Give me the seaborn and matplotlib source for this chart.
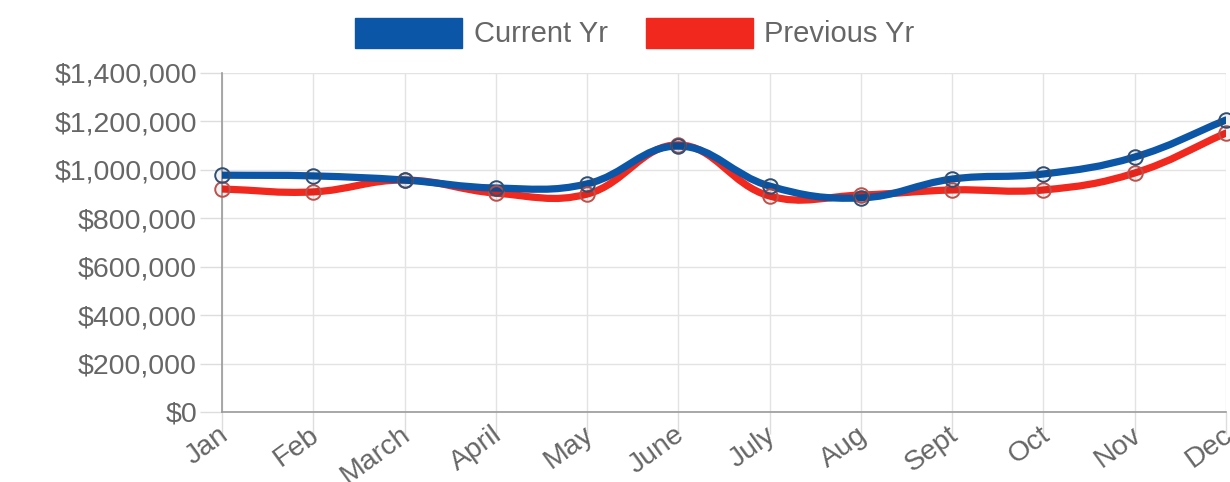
import matplotlib.pyplot as plt
import numpy as np
import pandas as pd
import seaborn as sns
from matplotlib.patches import Patch, PathPatch
from matplotlib.path import Path
from matplotlib.ticker import FuncFormatter, MultipleLocator

months = ["Jan", "Feb", "March", "April", "May", "June",
          "July", "Aug", "Sept", "Oct", "Nov", "Dec"]
current_yr = [978000, 975000, 958000, 925000, 942000, 1098000,
              933000, 884000, 962000, 983000, 1053000, 1206000]
previous_yr = [921000, 909000, 958000, 904000, 900000, 1103000,
               892000, 896000, 917000, 917000, 987000, 1152000]

BLUE = "#0b56a6"
RED = "#f0281e"
GRAY = "#666666"

sns.set_theme(style="white")
plt.rcParams["font.family"] = ["Liberation Sans", "DejaVu Sans"]

df = pd.DataFrame({"month": months, "Current Yr": current_yr, "Previous Yr": previous_yr})
df["pos"] = range(len(months))


def smooth_path(ax, xs, ys, tension=0.4):
    # chart.js-style cubic bezier through the data points (computed in pixel space)
    pts = ax.transData.transform(np.column_stack([xs, ys]))
    n = len(pts)
    verts = [pts[0]]
    codes = [Path.MOVETO]
    cps = []
    for i in range(n):
        prev = pts[max(i - 1, 0)]
        cur = pts[i]
        nxt = pts[min(i + 1, n - 1)]
        d01 = np.hypot(*(cur - prev))
        d12 = np.hypot(*(nxt - cur))
        tot = d01 + d12 if d01 + d12 > 0 else 1
        fa = tension * d01 / tot
        fb = tension * d12 / tot
        cps.append((cur - fa * (nxt - prev), cur + fb * (nxt - prev)))
    for i in range(1, n):
        verts += [cps[i - 1][1], cps[i][0], pts[i]]
        codes += [Path.CURVE4] * 3
    inv = ax.transData.inverted()
    return Path(inv.transform(np.array(verts)), codes)


fig = plt.figure(figsize=(12.3, 4.82), dpi=100)
ax = fig.add_axes([222 / 1230, 1 - 412 / 482, 1004 / 1230, 339 / 482])
ax.set_xlim(0, 11)
ax.set_ylim(0, 1400000)

ax.yaxis.set_major_locator(MultipleLocator(200000))
ax.yaxis.set_major_formatter(FuncFormatter(lambda v, p: f"${v:,.0f}"))
ax.set_xticks(df["pos"])
ax.set_xticklabels([])
# month labels placed a little left/below the tick ends, like the original
for pos, name in zip(df["pos"], months):
    ax.annotate(name, xy=(pos, 0), xycoords=("data", "axes fraction"),
                xytext=(-3, -7), textcoords="offset points",
                rotation=36, ha="right", va="top", rotation_mode="anchor",
                fontsize=20.5, color=GRAY, annotation_clip=False)

ax.grid(True, color="#e3e3e3", linewidth=1)
ax.set_axisbelow(True)
for side in ["top", "right"]:
    ax.spines[side].set_visible(False)
for side in ["left", "bottom"]:
    ax.spines[side].set_color("#9a9a9a")
    ax.spines[side].set_linewidth(1.2)
ax.tick_params(axis="both", colors="#dddddd", labelcolor=GRAY, labelsize=20.5,
               length=16, width=1, left=True, bottom=True)
ax.tick_params(axis="y", pad=2)

fig.canvas.draw()
for col, color, edge in [("Previous Yr", RED, "#c0504a"), ("Current Yr", BLUE, "#2f4f74")]:
    p = smooth_path(ax, df["pos"].values, df[col].values)
    ax.add_patch(PathPatch(p, facecolor="none", edgecolor=color, linewidth=5.2,
                           capstyle="round", joinstyle="round", zorder=3))
    sns.scatterplot(data=df, x="pos", y=col, ax=ax, s=110, marker="o",
                    facecolor=(0, 0, 0, 0.05), edgecolor=edge, linewidth=1.4,
                    zorder=4, clip_on=False)

ax.set_xlabel("")
ax.set_ylabel("")

handles = [Patch(facecolor=BLUE, edgecolor=BLUE, label="Current Yr"),
           Patch(facecolor=RED, edgecolor=RED, label="Previous Yr")]
fig.legend(handles=handles, loc="center", bbox_to_anchor=(0.516, 1 - 33 / 482),
           ncol=2, frameon=False, fontsize=21, labelcolor=GRAY,
           handlelength=3.67, handleheight=1.2, handletextpad=0.4, columnspacing=1.3)

fig.savefig("out.png", dpi=100)
